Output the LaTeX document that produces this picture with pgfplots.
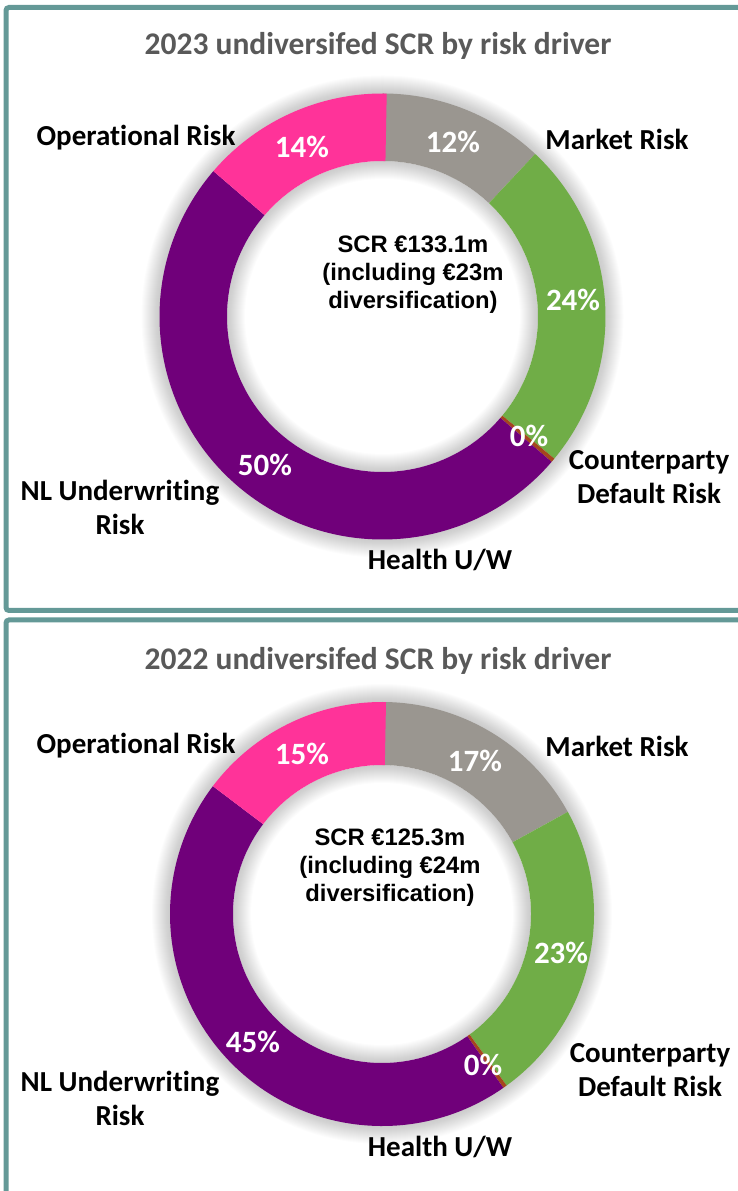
\documentclass[border=0pt]{standalone}
\usepackage{pgfplots}
\pgfplotsset{compat=1.18}
\usepackage{pgfplotstable}
\usepackage{fontspec}
\setmainfont{Carlito}[Ligatures=CommonOff]
\newfontfamily\arialf{Liberation Sans}

\definecolor{cPink}{RGB}{255,51,153}
\definecolor{cGray}{RGB}{154,150,144}
\definecolor{cGreen}{RGB}{112,173,71}
\definecolor{cBrown}{RGB}{165,70,30}
\definecolor{cPurple}{RGB}{112,0,122}
\definecolor{cTeal}{RGB}{100,153,151}
\definecolor{cTitle}{RGB}{89,89,89}

\tikzset{
  lbl/.style={font={\fontsize{29bp}{34bp}\selectfont\bfseries}, align=center, text=black},
  ctr/.style={font={\arialf\fontsize{23.8bp}{28bp}\selectfont\bfseries}, align=center, text=black},
  ttl/.style={font={\fontsize{31.5bp}{36bp}\selectfont\bfseries}, text=cTitle},
}

% share (%), colour, label position (px)
\pgfplotstableread{
share color lx ly
12 cGray 453 142
24 cGreen 573 300
0.3 cBrown 529 436
50 cPurple 265 465
14 cPink 302 147
}\dataA
\pgfplotstableread{
share color lx ly
17 cGray 475 761
23 cGreen 561 953
0.3 cBrown 483 1065
45 cPurple 253 1042
15 cPink 302 754
}\dataB

% #1 table, #2 cx, #3 cy (pixels, downwards), #4 R, #5 r
\newcommand\donut[5]{%
  % soft shadow
  \foreach \k in {1,...,18}{%
    \pgfmathsetmacro\rro{#4+\k}%
    \pgfmathsetmacro\rri{#5-\k}%
    \fill[black,opacity=0.01,even odd rule] (axis cs:#2,-#3) circle[radius=\rro bp] circle[radius=#4bp-4bp];
    \fill[black,opacity=0.01,even odd rule] (axis cs:#2,-#3) circle[radius=#5bp] circle[radius=\rri bp];
  }%
  \gdef\segcum{0}%
  \pgfplotstablegetrowsof{#1}\pgfmathtruncatemacro\segn{\pgfplotsretval-1}%
  \pgfmathsetmacro\segd{#4-#5}%
  \foreach \i in {0,...,\segn}{%
    \pgfplotstablegetelem{\i}{share}\of{#1}\let\segv\pgfplotsretval
    \pgfplotstablegetelem{\i}{color}\of{#1}\let\segcol\pgfplotsretval
    \pgfmathsetmacro\sega{90-3.6*\segcum}%
    \pgfmathsetmacro\segb{90-3.6*(\segcum+\segv)}%
    \pgfmathsetmacro\segbb{\segb+180}%
    \fill[\segcol] (axis cs:#2,-#3) ++(\sega:#4bp) arc[start angle=\sega,end angle=\segb,radius=#4bp] -- ++(\segbb:\segd bp) arc[start angle=\segb,end angle=\sega,radius=#5bp] -- cycle;
    \pgfmathsetmacro\segnc{\segcum+\segv}\xdef\segcum{\segnc}%
  }%
  \foreach \i in {0,...,\segn}{%
    \pgfplotstablegetelem{\i}{share}\of{#1}\let\segv\pgfplotsretval
    \pgfplotstablegetelem{\i}{lx}\of{#1}\let\seglx\pgfplotsretval
    \pgfplotstablegetelem{\i}{ly}\of{#1}\let\segly\pgfplotsretval
    \pgfmathtruncatemacro\segp{round(\segv)}%
    \node[text=white,font={\fontsize{31bp}{36bp}\selectfont\bfseries}] at (axis cs:\seglx,-\segly) {\segp\%};
  }%
}

\begin{document}
\begin{tikzpicture}
\begin{axis}[
  scale only axis, width=737bp, height=1191bp,
  xmin=0, xmax=737, ymin=-1191, ymax=0,
  hide axis, clip=false,
]
% frames
\draw[cTeal, line width=5bp, rounded corners=3bp] (axis cs:6,-7.5) rectangle (axis cs:770,-610.5);
\draw[cTeal, line width=5bp, rounded corners=3bp] (axis cs:6,-620) rectangle (axis cs:770,-1240);

% ---- 2023 ----
\node[ttl] at (axis cs:378,-46) {2023 undiversifed SCR by risk driver};
\pgfplotsextra{\donut{\dataA}{382.5}{316.5}{223}{155.5}}
\node[ctr] at (axis cs:413,-275) {SCR €133.1m\\(including €23m\\diversification)};
\node[lbl] at (axis cs:136,-138) {Operational Risk};
\node[lbl] at (axis cs:617,-139) {Market Risk};
\node[lbl] at (axis cs:649,-477) {Counterparty\\Default Risk};
\node[lbl] at (axis cs:120,-507) {NL Underwriting\\Risk};
\node[lbl] at (axis cs:440,-560) {Health U/W};

% ---- 2022 ----
\node[ttl] at (axis cs:378,-661) {2022 undiversifed SCR by risk driver};
\pgfplotsextra{\donut{\dataB}{382}{914}{212}{149}}
\node[ctr] at (axis cs:390,-868) {SCR €125.3m\\(including €24m\\diversification)};
\node[lbl] at (axis cs:136,-746) {Operational Risk};
\node[lbl] at (axis cs:617,-746) {Market Risk};
\node[lbl] at (axis cs:650,-1070) {Counterparty\\Default Risk};
\node[lbl] at (axis cs:120,-1098) {NL Underwriting\\Risk};
\node[lbl] at (axis cs:440,-1147) {Health U/W};
\end{axis}
\pgfresetboundingbox
\useasboundingbox (current axis.south west) rectangle (current axis.north east);
\end{tikzpicture}
\end{document}
